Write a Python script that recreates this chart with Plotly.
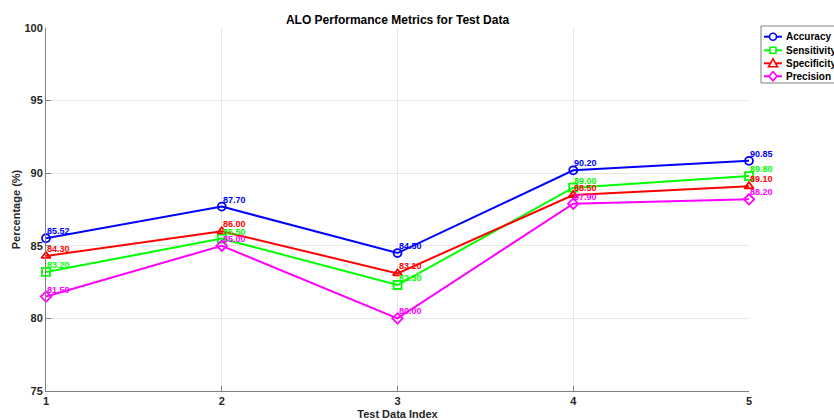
import plotly.graph_objects as go

x_idx = [1, 2, 3, 4, 5]
accuracy = [85.52, 87.70, 84.50, 90.20, 90.85]
sensitivity = [83.20, 85.50, 82.30, 89.00, 89.80]
specificity = [84.30, 86.00, 83.10, 88.50, 89.10]
precision = [81.50, 85.00, 80.00, 87.90, 88.20]
y_ticks = [75, 80, 85, 90, 95, 100]

series = [
    ("Accuracy", accuracy, "#0000ff", "circle-open"),
    ("Sensitivity", sensitivity, "#00ff00", "square-open"),
    ("Specificity", specificity, "#ff0000", "triangle-up-open"),
    ("Precision", precision, "#ff00ff", "diamond-open"),
]

# plot area in page pixels (body margin removed by post_script)
PX_L, PX_R, PX_T, PX_B = 46, 749, 28, 391
OFF = 0
W, H = 834, 420


def pxx(px):
    return (px - PX_L) / (PX_R - PX_L)


def pxy(py):
    return (PX_B - py) / (PX_B - PX_T)


fig = go.Figure()
for name, vals, color, sym in series:
    fig.add_trace(go.Scatter(
        x=x_idx, y=vals, name=name, mode="lines+markers",
        line=dict(color=color, width=2),
        marker=dict(symbol=sym, size=8, color=color, line=dict(width=1.8, color=color)),
        cliponaxis=False, showlegend=False,
    ))
    for xv, v in zip(x_idx, vals):
        fig.add_annotation(
            x=xv, y=v, text=f"<b>{v:.2f}</b>", showarrow=False,
            xanchor="left", yanchor="bottom", xshift=0, yshift=1, borderpad=0,
            font=dict(family="Liberation Sans, Arial", size=9, color=color),
        )

# custom compact legend (MATLAB style)
shapes = [dict(type="rect", xref="paper", yref="paper",
               x0=pxx(761), x1=pxx(860), y0=pxy(83), y1=pxy(26),
               line=dict(color="#808080", width=1), fillcolor="white", layer="above")]
rows = [36.7, 50.3, 63.3, 76.3]
for (name, vals, color, sym), ry in zip(series, rows):
    shapes.append(dict(type="line", xref="paper", yref="paper",
                       x0=pxx(764), x1=pxx(782), y0=pxy(ry), y1=pxy(ry),
                       line=dict(color=color, width=2), layer="above"))
    cx, r = 773, 3.5
    if sym.startswith("circle"):
        shapes.append(dict(type="circle", xref="paper", yref="paper",
                           x0=pxx(cx - r), x1=pxx(cx + r), y0=pxy(ry + r), y1=pxy(ry - r),
                           line=dict(color=color, width=1.6), fillcolor="white", layer="above"))
    elif sym.startswith("square"):
        shapes.append(dict(type="rect", xref="paper", yref="paper",
                           x0=pxx(cx - 3), x1=pxx(cx + 3), y0=pxy(ry + 3), y1=pxy(ry - 3),
                           line=dict(color=color, width=1.6), fillcolor="white", layer="above"))
    elif sym.startswith("triangle"):
        p = f"M {pxx(cx-4.5)},{pxy(ry+3.5)} L {pxx(cx+4.5)},{pxy(ry+3.5)} L {pxx(cx)},{pxy(ry-4.5)} Z"
        shapes.append(dict(type="path", xref="paper", yref="paper", path=p,
                           line=dict(color=color, width=1.6), fillcolor="white", layer="above"))
    else:
        p = f"M {pxx(cx-4)},{pxy(ry)} L {pxx(cx)},{pxy(ry-4.5)} L {pxx(cx+4)},{pxy(ry)} L {pxx(cx)},{pxy(ry+4.5)} Z"
        shapes.append(dict(type="path", xref="paper", yref="paper", path=p,
                           line=dict(color=color, width=1.6), fillcolor="white", layer="above"))
    fig.add_annotation(x=pxx(785), y=pxy(ry), xref="paper", yref="paper",
                       text=f"<b>{name}</b>", showarrow=False, xanchor="left", yanchor="middle",
                       borderpad=0, font=dict(family="Liberation Sans, Arial", size=10, color="#000"))

fig.update_layout(
    width=W, height=H,
    margin=dict(l=PX_L - OFF, r=W - (PX_R - OFF), t=PX_T - OFF, b=H - (PX_B - OFF), autoexpand=False),
    paper_bgcolor="white", plot_bgcolor="white",
    font=dict(family="Liberation Sans, Arial", size=11, color="#262626"),
    shapes=shapes,
    title=dict(text="<b>ALO Performance Metrics for Test Data</b>", x=(397.5 - OFF) / W, xanchor="center",
               y=1 - (20 - OFF) / H, yanchor="middle", font=dict(size=12, color="#000")),
    xaxis=dict(range=[1, 5], tickvals=x_idx, ticktext=[f"<b>{v}</b>" for v in x_idx],
               showgrid=True, gridcolor="#e6e6e6", zeroline=False,
               showline=True, linecolor="#808080", linewidth=1,
               ticks="inside", ticklen=5, tickcolor="#808080",
               title=dict(text="<b>Test Data Index</b>", standoff=4, font=dict(size=11, color="#262626"))),
    yaxis=dict(range=[75, 100], tickvals=y_ticks,
               ticktext=[f"<b>{v}</b>" for v in y_ticks],
               showgrid=True, gridcolor="#e6e6e6", zeroline=False,
               showline=True, linecolor="#808080", linewidth=1,
               ticks="inside", ticklen=5, tickcolor="#808080",
               title=dict(text="<b>Percentage (%)</b>", standoff=1, font=dict(size=11, color="#262626"))),
    showlegend=False,
)
fig.write_html(
    "out.html",
    config={"displayModeBar": False},
    post_script="document.body.style.margin='0';document.documentElement.style.overflow='hidden';document.body.style.overflow='hidden';",
)
